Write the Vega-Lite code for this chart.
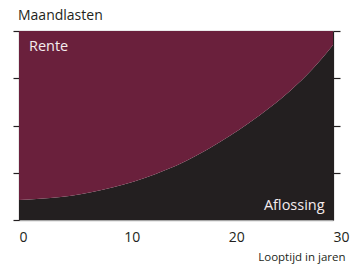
{
  "$schema": "https://vega.github.io/schema/vega-lite/v6.json",
  "width": 314,
  "height": 189,
  "autosize": "none",
  "padding": {"left": 19, "top": 31, "right": 19, "bottom": 44},
  "background": "white",
  "config": {"view": {"stroke": null}, "font": "Open Sans"},
  "title": {"text": "Maandlasten", "anchor": "start", "frame": "group", "fontSize": 14, "fontWeight": "normal", "color": "#231f20", "font": "Open Sans", "offset": 7, "dx": -1},
  "datasets": {
    "lasten": [
      {"t": 0, "deel": "Aflossing", "o": 1, "v": 10.6}, {"t": 0, "deel": "Rente", "o": 2, "v": 89.4},
      {"t": 2, "deel": "Aflossing", "o": 1, "v": 11.2}, {"t": 2, "deel": "Rente", "o": 2, "v": 88.8},
      {"t": 4, "deel": "Aflossing", "o": 1, "v": 12.2}, {"t": 4, "deel": "Rente", "o": 2, "v": 87.8},
      {"t": 6, "deel": "Aflossing", "o": 1, "v": 13.8}, {"t": 6, "deel": "Rente", "o": 2, "v": 86.2},
      {"t": 8, "deel": "Aflossing", "o": 1, "v": 16.0}, {"t": 8, "deel": "Rente", "o": 2, "v": 84.0},
      {"t": 10, "deel": "Aflossing", "o": 1, "v": 18.8}, {"t": 10, "deel": "Rente", "o": 2, "v": 81.2},
      {"t": 12, "deel": "Aflossing", "o": 1, "v": 22.2}, {"t": 12, "deel": "Rente", "o": 2, "v": 77.8},
      {"t": 14, "deel": "Aflossing", "o": 1, "v": 26.4}, {"t": 14, "deel": "Rente", "o": 2, "v": 73.6},
      {"t": 16, "deel": "Aflossing", "o": 1, "v": 31.4}, {"t": 16, "deel": "Rente", "o": 2, "v": 68.6},
      {"t": 18, "deel": "Aflossing", "o": 1, "v": 37.3}, {"t": 18, "deel": "Rente", "o": 2, "v": 62.7},
      {"t": 20, "deel": "Aflossing", "o": 1, "v": 44.0}, {"t": 20, "deel": "Rente", "o": 2, "v": 56.0},
      {"t": 22, "deel": "Aflossing", "o": 1, "v": 51.4}, {"t": 22, "deel": "Rente", "o": 2, "v": 48.6},
      {"t": 24, "deel": "Aflossing", "o": 1, "v": 59.6}, {"t": 24, "deel": "Rente", "o": 2, "v": 40.4},
      {"t": 26, "deel": "Aflossing", "o": 1, "v": 68.8}, {"t": 26, "deel": "Rente", "o": 2, "v": 31.2},
      {"t": 28, "deel": "Aflossing", "o": 1, "v": 79.6}, {"t": 28, "deel": "Rente", "o": 2, "v": 20.4},
      {"t": 30, "deel": "Aflossing", "o": 1, "v": 92.6}, {"t": 30, "deel": "Rente", "o": 2, "v": 7.4}
    ]
  },
  "layer": [
    {
      "data": {"name": "lasten"},
      "mark": {"type": "area", "interpolate": "monotone"},
      "encoding": {
        "x": {"field": "t", "type": "quantitative", "scale": {"domain": [0, 30], "nice": false},
          "axis": {"values": [0, 10, 20, 30], "title": "Looptijd in jaren", "grid": false, "ticks": false,
            "domainColor": "#a6a6a6", "domainWidth": 1.5, "labelAlign": "left", "labelFontSize": 14, "labelColor": "#231f20",
            "labelPadding": 10, "labelFont": "Open Sans", "titleFont": "Open Sans", "titleFontWeight": "normal", "titleFontSize": 11.5,
            "titleColor": "#231f20", "titleAlign": "right", "titleAnchor": null, "titleX": 326, "titleY": 40, "titleBaseline": "alphabetic"}},
        "y": {"field": "v", "type": "quantitative", "stack": "zero", "scale": {"domain": [0, 100], "nice": false},
          "axis": {"values": [0, 25, 50, 75, 100], "labels": false, "title": null, "grid": false, "tickSize": 6,
            "tickColor": "#231f20", "domainColor": "#231f20", "tickWidth": 1.2, "domainWidth": 1.2}},
        "color": {"field": "deel", "type": "nominal", "scale": {"domain": ["Aflossing", "Rente"], "range": ["#231f20", "#6a203c"]}, "legend": null},
        "order": {"field": "o", "type": "quantitative"}
      }
    },
    {
      "data": {"values": [{"t": 0.95, "y": 91.5, "label": "Rente"}]},
      "mark": {"type": "text", "fontSize": 14.5, "color": "#f4ecee", "font": "Open Sans", "baseline": "middle", "align": "left"},
      "encoding": {
        "x": {"field": "t", "type": "quantitative", "axis": null},
        "y": {"field": "y", "type": "quantitative", "axis": null},
        "text": {"field": "label"}
      }
    },
    {
      "data": {"values": [{"t": 29.2, "y": 7.5, "label": "Aflossing"}]},
      "mark": {"type": "text", "fontSize": 14.5, "color": "#f4ecee", "font": "Open Sans", "baseline": "middle", "align": "right"},
      "encoding": {
        "x": {"field": "t", "type": "quantitative", "axis": null},
        "y": {"field": "y", "type": "quantitative", "axis": null},
        "text": {"field": "label"}
      }
    },
    {
      "data": {"values": [{"a": 0}]},
      "mark": {"type": "rule", "opacity": 0},
      "encoding": {
        "y": {"datum": 0, "type": "quantitative", "axis": {"orient": "right", "values": [25, 50, 75, 100], "labels": false, "title": null,
          "grid": false, "tickSize": 7, "tickColor": "#231f20", "domainColor": "#231f20", "tickWidth": 1.2, "domainWidth": 1.2}},
        "x": {"datum": 0, "type": "quantitative", "axis": {"orient": "top", "labels": false, "ticks": false, "title": null, "grid": false,
          "domainColor": "#a6a6a6", "domainWidth": 1.5}}
      }
    }
  ],
  "resolve": {"axis": {"y": "independent", "x": "independent"}}
}
